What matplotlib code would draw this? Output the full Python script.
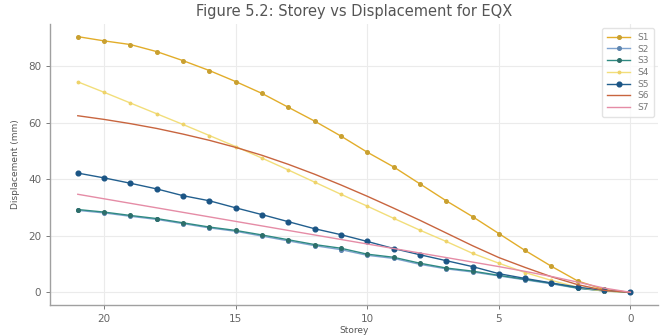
import numpy as np
import matplotlib.pyplot as plt

#%% data (storey 21 -> 0)
storey = list(range(21, -1, -1))

s1 = [90.5, 89.0, 87.7, 85.2, 82.0, 78.5, 74.6, 70.4, 65.5, 60.6, 55.3,
      49.6, 44.4, 38.4, 32.4, 26.8, 20.8, 14.8, 9.2, 4.0, 1.0, 0.0]
s2 = [29.0, 28.1, 26.9, 25.8, 24.3, 22.8, 21.6, 19.9, 18.2, 16.5, 15.1,
      13.1, 12.0, 9.9, 8.3, 7.2, 5.8, 4.4, 3.0, 1.4, 0.5, 0.0]
s3 = [29.3, 28.4, 27.2, 26.1, 24.6, 23.1, 21.9, 20.3, 18.6, 16.9, 15.6,
      13.5, 12.4, 10.3, 8.6, 7.5, 6.0, 4.6, 3.2, 1.5, 0.5, 0.0]
s4 = [74.5, 70.8, 67.0, 63.2, 59.4, 55.5, 51.6, 47.5, 43.3, 39.0, 34.7,
      30.5, 26.2, 22.0, 18.0, 13.8, 10.3, 7.0, 4.2, 1.8, 0.4, 0.0]
s5 = [42.2, 40.5, 38.6, 36.6, 34.2, 32.4, 29.9, 27.5, 25.0, 22.5, 20.4,
      18.0, 15.5, 13.3, 11.2, 9.1, 6.6, 4.9, 3.3, 1.8, 0.7, 0.0]
s6 = [62.5, 61.2, 59.7, 58.0, 56.0, 53.8, 51.3, 48.5, 45.3, 41.8, 38.0,
      34.0, 29.8, 25.5, 21.0, 16.5, 12.3, 8.8, 5.5, 2.7, 0.7, 0.0]
s7 = [34.7, 33.1, 31.5, 29.9, 28.3, 26.7, 25.1, 23.5, 21.9, 20.3, 18.7,
      17.1, 15.5, 13.9, 12.3, 10.7, 9.1, 7.4, 5.6, 3.6, 1.5, 0.0]

#%% plot
fig = plt.figure(figsize=(6.6, 3.36), dpi=100)
ax = fig.add_axes([0.076, 0.092, 0.921, 0.837])

ax.plot(storey, s1, color='#e2ad2a', marker='o', ms=2.6, mfc='#c9a030', mec='#c9a030', lw=1.0, label='S1')
ax.plot(storey, s2, color='#7fa3cf', marker='o', ms=2.6, mfc='#5f86b0', mec='#5f86b0', lw=1.0, label='S2')
ax.plot(storey, s3, color='#2f8a82', marker='o', ms=2.6, mfc='#2d6f6a', mec='#2d6f6a', lw=1.0, label='S3')
ax.plot(storey, s4, color='#f2de7a', marker='o', ms=1.8, mfc='#eed36a', mec='#eed36a', lw=1.0, label='S4')
ax.plot(storey, s5, color='#225f8e', marker='o', ms=3.4, mfc='#1b5585', mec='#1b5585', lw=1.0, label='S5')
ax.plot(storey, s6, color='#c8653f', lw=1.0, label='S6')
ax.plot(storey, s7, color='#e58ca6', lw=1.0, label='S7')

ax.invert_xaxis()
ax.set_xticks([20, 15, 10, 5, 0])
ax.set_yticks([0, 20, 40, 60, 80])
ax.grid(True, color='#ebebeb', lw=0.8)
ax.set_axisbelow(True)
for side in ['top', 'right']:
    ax.spines[side].set_visible(False)
for side in ['left', 'bottom']:
    ax.spines[side].set_color('#a0a0a0')
    ax.spines[side].set_linewidth(1.0)
ax.tick_params(colors='#666666', labelsize=7.5, length=3, width=0.6)

ax.set_title('Figure 5.2: Storey vs Displacement for EQX', fontsize=10.5, color='#555555', pad=6)
ax.set_xlabel('Storey', fontsize=6.5, color='#555555', labelpad=1)
ax.set_ylabel('Displacement (mm)', fontsize=6.5, color='#555555', labelpad=6)
ax.legend(loc='upper right', fontsize=6.5, frameon=True, edgecolor='#dddddd',
          handlelength=2.6, labelcolor='#777777', borderpad=0.5, labelspacing=0.3)

fig.savefig('out.png', dpi=100)
